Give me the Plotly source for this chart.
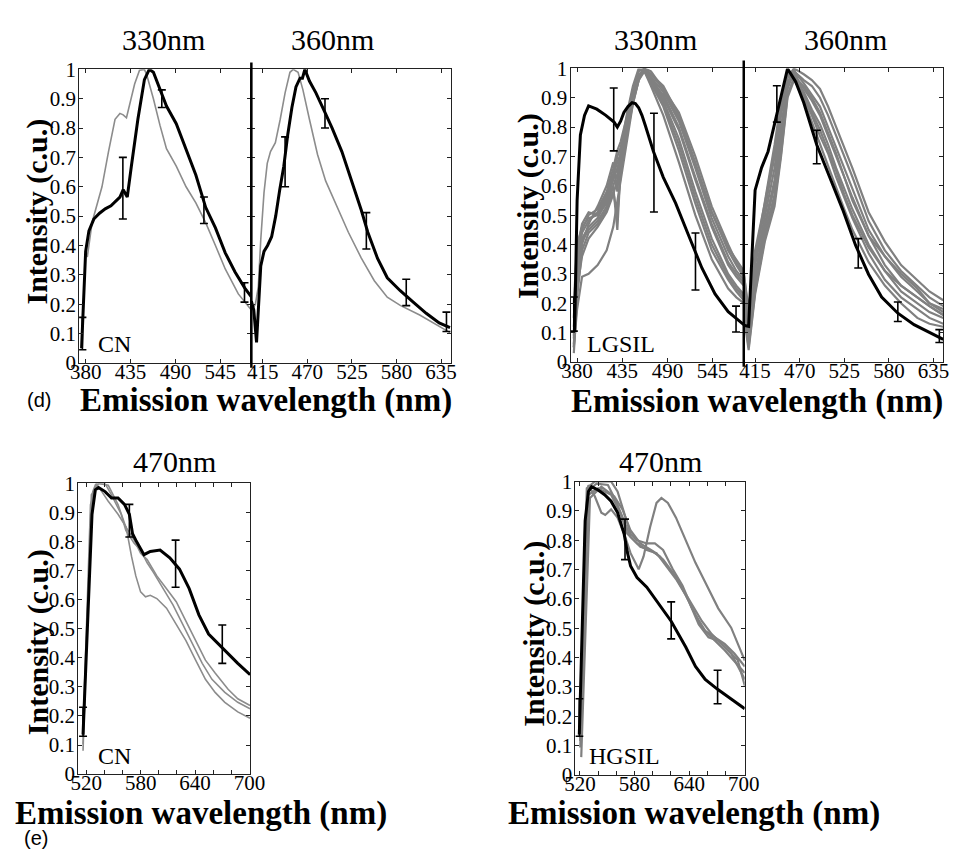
import plotly.graph_objects as go

# ---------------- data ----------------
# (d) CN, excitation 330 nm
wl_330_cn_black = [375, 377, 380, 384, 390, 397, 404, 411, 417, 422, 426, 431, 436, 444, 452, 458,
                   463, 471, 479, 491, 503, 515, 527, 539, 551, 563, 575, 583]
int_330_cn_black = [0.05, 0.20, 0.38, 0.45, 0.49, 0.51, 0.525, 0.535, 0.55, 0.565, 0.59, 0.565, 0.67,
                    0.83, 0.965, 1.0, 0.99, 0.93, 0.875, 0.815, 0.73, 0.64, 0.53, 0.46, 0.375, 0.31,
                    0.255, 0.225]
wl_330_cn_grey = [382, 388, 396, 400, 408, 416, 422, 426, 430, 436, 440, 446, 452, 455, 463, 471,
                  479, 491, 503, 515, 527, 539, 551, 567, 583]
int_330_cn_grey = [0.36, 0.48, 0.56, 0.60, 0.72, 0.83, 0.85, 0.845, 0.835, 0.90, 0.95, 0.997, 1.0,
                   0.98, 0.90, 0.81, 0.73, 0.67, 0.60, 0.545, 0.478, 0.40, 0.32, 0.235, 0.18]
err_330_cn_wl = [376, 425.6, 473.3, 524.9, 574.6]
err_330_cn_mean = [0.10, 0.595, 0.90, 0.52, 0.24]
err_330_cn_sd = [0.055, 0.105, 0.03, 0.045, 0.033]

# (d) CN, excitation 360 nm
wl_360_cn_black = [401, 404, 407.4, 412.6, 416.6, 421, 426, 431, 436, 441, 446, 451, 456, 461, 464,
                   467, 472.6, 480.6, 490.6, 500.6, 512.6, 524.6, 536.6, 544.6, 556.6, 568.6,
                   584.6, 600.6, 616.6, 632.6, 646]
int_360_cn_black = [0.21, 0.18, 0.07, 0.33, 0.38, 0.40, 0.43, 0.50, 0.59, 0.67, 0.78, 0.87, 0.94,
                    0.97, 0.97, 1.0, 0.96, 0.92, 0.86, 0.80, 0.72, 0.62, 0.52, 0.445, 0.356, 0.29,
                    0.246, 0.207, 0.169, 0.136, 0.12]
wl_360_cn_grey = [401, 406, 409.6, 412.6, 416.6, 420.6, 424.6, 430.6, 436.6, 442.6, 448.6, 452.6,
                  458.6, 464.6, 472.6, 482.6, 492.6, 504.6, 520.6, 536.6, 552.6, 568.6, 584.6,
                  608.6, 632.6, 646]
int_360_cn_grey = [0.18, 0.20, 0.26, 0.42, 0.58, 0.68, 0.72, 0.75, 0.83, 0.92, 0.99, 1.0, 0.99,
                   0.93, 0.83, 0.71, 0.62, 0.544, 0.445, 0.357, 0.28, 0.224, 0.196, 0.163, 0.125,
                   0.103]
err_360_cn_wl = [442.6, 491.8, 542.8, 592.0, 641.6]
err_360_cn_mean = [0.685, 0.85, 0.45, 0.24, 0.14]
err_360_cn_sd = [0.085, 0.05, 0.062, 0.045, 0.033]

# (d) LGSIL, excitation 330 nm
wl_330_lg_black = [377, 380, 384, 389, 394, 404, 415, 425, 429, 433, 437, 442, 447, 451, 455, 459,
                   463, 468, 473, 485, 500, 516, 532, 548, 564, 576, 583]
int_330_lg_black = [0.105, 0.55, 0.773, 0.84, 0.872, 0.861, 0.84, 0.817, 0.80, 0.82, 0.85, 0.87,
                    0.883, 0.88, 0.866, 0.84, 0.806, 0.76, 0.717, 0.629, 0.541, 0.43, 0.32, 0.232,
                    0.171, 0.143, 0.127]
wl_330_lg_grey = [376, 380, 386, 394, 405, 416, 424, 429, 433, 441, 448, 455, 462, 470, 485, 504,
                  524, 544, 564, 574, 583]
int_330_lg_grey = [
    [0.05, 0.30, 0.42, 0.46, 0.49, 0.55, 0.62, 0.66, 0.70, 0.80, 0.90, 0.97, 1.00, 0.98, 0.93, 0.85, 0.70, 0.53, 0.40, 0.34, 0.30],
    [0.10, 0.35, 0.45, 0.50, 0.52, 0.58, 0.66, 0.72, 0.75, 0.84, 0.93, 0.99, 1.00, 0.97, 0.92, 0.82, 0.66, 0.49, 0.36, 0.31, 0.28],
    [0.03, 0.22, 0.38, 0.44, 0.47, 0.52, 0.58, 0.50, 0.64, 0.78, 0.88, 0.96, 1.00, 0.96, 0.89, 0.76, 0.58, 0.42, 0.30, 0.26, 0.23],
    [0.15, 0.38, 0.47, 0.51, 0.50, 0.56, 0.63, 0.70, 0.73, 0.82, 0.91, 0.98, 0.99, 0.95, 0.87, 0.72, 0.54, 0.38, 0.28, 0.24, 0.21],
    [0.08, 0.27, 0.40, 0.47, 0.53, 0.60, 0.68, 0.58, 0.72, 0.85, 0.94, 1.00, 0.99, 0.94, 0.84, 0.68, 0.50, 0.35, 0.25, 0.22, 0.20],
    [0.05, 0.18, 0.29, 0.30, 0.33, 0.38, 0.46, 0.55, 0.62, 0.76, 0.88, 0.96, 1.00, 0.97, 0.90, 0.79, 0.62, 0.46, 0.33, 0.29, 0.26],
    [0.12, 0.33, 0.44, 0.48, 0.51, 0.57, 0.64, 0.68, 0.71, 0.81, 0.90, 0.97, 1.00, 0.98, 0.94, 0.84, 0.68, 0.51, 0.38, 0.33, 0.29],
    [0.20, 0.40, 0.46, 0.49, 0.50, 0.54, 0.60, 0.45, 0.66, 0.79, 0.89, 0.96, 0.99, 0.96, 0.91, 0.80, 0.63, 0.47, 0.34, 0.30, 0.27],
    [0.06, 0.25, 0.36, 0.42, 0.46, 0.51, 0.57, 0.62, 0.68, 0.80, 0.90, 0.97, 1.00, 0.99, 0.93, 0.83, 0.67, 0.51, 0.39, 0.35, 0.31],
    [0.09, 0.31, 0.41, 0.45, 0.48, 0.53, 0.60, 0.64, 0.69, 0.83, 0.92, 0.99, 1.00, 0.96, 0.88, 0.74, 0.56, 0.40, 0.29, 0.25, 0.22],
]
err_330_lg_wl = [376, 424.6, 473.6, 524.2, 573.6]
err_330_lg_mean = [0.163, 0.826, 0.679, 0.342, 0.146]
err_330_lg_sd = [0.058, 0.107, 0.168, 0.097, 0.044]

# (d) LGSIL, excitation 360 nm
wl_360_lg_black = [401, 407, 415, 423, 431, 439, 447, 455, 465, 475, 491, 507, 523, 539, 555, 571,
                   591, 611, 631, 647]
int_360_lg_black = [0.125, 0.121, 0.585, 0.662, 0.717, 0.806, 0.905, 0.999, 0.955, 0.883, 0.74,
                    0.629, 0.519, 0.397, 0.298, 0.221, 0.166, 0.127, 0.099, 0.077]
wl_360_lg_grey = [401, 407, 415, 427, 439, 447, 455, 463, 475, 485, 495, 505, 515, 525, 535, 555,
                  575, 595, 615, 630, 647]
int_360_lg_grey = [
    [0.28, 0.12, 0.30, 0.47, 0.62, 0.80, 0.95, 1.00, 0.98, 0.96, 0.93, 0.87, 0.80, 0.73, 0.66, 0.51, 0.41, 0.33, 0.28, 0.24, 0.21],
    [0.30, 0.18, 0.38, 0.54, 0.72, 0.87, 0.98, 0.99, 0.96, 0.94, 0.90, 0.84, 0.77, 0.70, 0.63, 0.48, 0.38, 0.31, 0.26, 0.22, 0.19],
    [0.22, 0.06, 0.26, 0.44, 0.57, 0.74, 0.93, 0.99, 0.95, 0.91, 0.87, 0.80, 0.73, 0.66, 0.59, 0.45, 0.36, 0.29, 0.24, 0.20, 0.18],
    [0.25, 0.10, 0.33, 0.50, 0.66, 0.84, 0.97, 0.98, 0.93, 0.89, 0.84, 0.77, 0.70, 0.63, 0.56, 0.43, 0.33, 0.26, 0.22, 0.19, 0.16],
    [0.18, 0.05, 0.24, 0.42, 0.55, 0.71, 0.91, 0.97, 0.92, 0.86, 0.81, 0.74, 0.66, 0.59, 0.52, 0.40, 0.31, 0.24, 0.20, 0.17, 0.15],
    [0.31, 0.15, 0.36, 0.52, 0.70, 0.86, 0.97, 1.00, 0.90, 0.84, 0.77, 0.71, 0.63, 0.56, 0.49, 0.37, 0.28, 0.22, 0.18, 0.15, 0.13],
    [0.20, 0.08, 0.28, 0.46, 0.60, 0.77, 0.94, 0.98, 0.89, 0.82, 0.74, 0.67, 0.59, 0.52, 0.45, 0.34, 0.26, 0.20, 0.15, 0.13, 0.12],
    [0.26, 0.13, 0.35, 0.55, 0.74, 0.89, 0.99, 0.97, 0.94, 0.90, 0.85, 0.78, 0.71, 0.63, 0.55, 0.43, 0.36, 0.30, 0.25, 0.20, 0.17],
    [0.16, 0.04, 0.23, 0.41, 0.53, 0.70, 0.90, 0.96, 0.91, 0.85, 0.79, 0.72, 0.65, 0.57, 0.50, 0.39, 0.31, 0.26, 0.22, 0.19, 0.16],
]
err_360_lg_wl = [441.8, 491.0, 542.2, 591.0, 642.2]
err_360_lg_mean = [0.879, 0.732, 0.37, 0.171, 0.088]
err_360_lg_sd = [0.062, 0.057, 0.05, 0.033, 0.022]

# (e) CN, excitation 470 nm
wl_470_cn_black = [516.4, 521, 526.3, 530, 533.5, 540.7, 547.8, 555, 562.1, 567.5, 571, 574.6,
                   583.6, 590.6, 601.4, 612.1, 622.8, 633.5, 644.2, 654.9, 665.7, 676.4, 687.1,
                   700.7]
int_470_cn_black = [0.136, 0.482, 0.894, 0.978, 0.986, 0.972, 0.95, 0.95, 0.928, 0.894, 0.827,
                    0.805, 0.755, 0.766, 0.771, 0.744, 0.705, 0.638, 0.548, 0.482, 0.448, 0.415,
                    0.381, 0.342]
wl_470_cn_grey = [
    [516.4, 522.8, 527.1, 530.6, 537.1, 544.2, 555, 563.9, 569.9, 574.6, 579.9, 585.3, 590.6, 597.8,
     608.5, 619.2, 629.9, 640.6, 651.4, 662.1, 672.8, 687.1, 700.6],
    [516.4, 524.6, 531.7, 540.6, 547.8, 558.5, 563.6, 572.8, 579.9, 587.1, 594.2, 605, 615.6, 626.4,
     637.1, 647.9, 658.6, 672.8, 687.1, 700.6],
    [516.4, 525.6, 533.5, 544.2, 555, 563.6, 572.8, 579.9, 587.1, 597.8, 608.5, 619.2, 629.9, 640.6,
     651.4, 662.1, 676.4, 687.1, 700.6],
]
int_470_cn_grey = [
    [0.103, 0.682, 0.972, 1.0, 0.972, 0.939, 0.894, 0.85, 0.749, 0.682, 0.627, 0.61, 0.615, 0.604,
     0.571, 0.515, 0.459, 0.392, 0.326, 0.281, 0.247, 0.214, 0.192],
    [0.147, 0.927, 1.0, 1.0, 0.961, 0.894, 0.838, 0.794, 0.771, 0.727, 0.693, 0.638, 0.582, 0.515,
     0.448, 0.381, 0.326, 0.281, 0.247, 0.225],
    [0.08, 0.961, 1.0, 0.994, 0.927, 0.85, 0.805, 0.76, 0.738, 0.682, 0.638, 0.593, 0.526, 0.459,
     0.392, 0.348, 0.292, 0.259, 0.236],
]
err_470_cn_wl = [516.4, 567.5, 618.5, 670.0]
err_470_cn_mean = [0.18, 0.872, 0.724, 0.447]
err_470_cn_sd = [0.05, 0.056, 0.081, 0.066]

# (e) HGSIL, excitation 470 nm
wl_470_hg_black = [519.3, 525.7, 529.3, 532.8, 540, 547.1, 554.2, 561.3, 568.5, 572, 575.6, 582.7,
                   593.4, 607.7, 620.2, 636.2, 646.9, 657.6, 671.2, 686.1, 701]
int_470_hg_black = [0.138, 0.866, 0.966, 0.982, 0.971, 0.955, 0.933, 0.894, 0.822, 0.76, 0.712,
                    0.673, 0.64, 0.58, 0.524, 0.436, 0.37, 0.326, 0.292, 0.259, 0.226]
wl_470_hg_grey = [
    [520.3, 525.7, 529.3, 536.4, 543.5, 547.8, 554.2, 561.3, 568.5, 575.6, 584.5, 589.9, 597, 604.1,
     609.5, 616.6, 625.5, 636.2, 646.9, 657.6, 671.9, 686.1, 701.1],
    [520.3, 527.5, 536.4, 554.2, 561.3, 568.5, 575.6, 582.7, 593.4, 602.3, 611.3, 622, 632.6, 643.3,
     654, 664.7, 679, 701.1],
    [520.3, 528.5, 538.2, 550.7, 559.6, 568.5, 575.6, 586.3, 597, 607.7, 618.4, 629.1, 639.8, 650.5,
     661.2, 671.9, 686.1, 701.1],
    [520.3, 529.3, 540, 554.2, 564.9, 572, 582.7, 593.4, 604.1, 614.8, 625.5, 636.2, 646.9, 657.6,
     668.3, 679, 689.7, 701.1],
    [521.4, 531, 543.5, 557.8, 566.7, 575.6, 586.3, 600.6, 611.3, 622, 632.6, 643.3, 654, 664.7, 679,
     693.3, 701.1],
]
int_470_hg_grey = [
    [0.127, 0.855, 0.988, 0.949, 0.894, 0.886, 0.905, 0.877, 0.822, 0.756, 0.701, 0.745, 0.844,
     0.927, 0.944, 0.927, 0.877, 0.8, 0.723, 0.657, 0.568, 0.502, 0.39],
    [0.149, 0.977, 1.0, 1.0, 0.966, 0.889, 0.822, 0.8, 0.789, 0.789, 0.767, 0.701, 0.646, 0.568,
     0.502, 0.469, 0.425, 0.348],
    [0.116, 0.966, 0.993, 0.988, 0.933, 0.866, 0.811, 0.778, 0.767, 0.745, 0.701, 0.657, 0.59,
     0.513, 0.469, 0.458, 0.414, 0.326],
    [0.094, 0.955, 0.977, 0.955, 0.889, 0.822, 0.789, 0.767, 0.756, 0.712, 0.668, 0.613, 0.546,
     0.491, 0.469, 0.447, 0.414, 0.37],
    [0.061, 0.944, 0.982, 0.949, 0.905, 0.833, 0.789, 0.762, 0.734, 0.69, 0.635, 0.579, 0.524,
     0.48, 0.436, 0.392, 0.304],
]
err_470_hg_wl = [519.3, 569.5, 620.2, 671.2]
err_470_hg_mean = [0.196, 0.803, 0.527, 0.30]
err_470_hg_sd = [0.064, 0.069, 0.063, 0.057]

# tick definitions
y_ticks = [0, 0.1, 0.2, 0.3, 0.4, 0.5, 0.6, 0.7, 0.8, 0.9, 1]
y_tick_text = ["0", "0.1", "0.2", "0.3", "0.4", "0.5", "0.6", "0.7", "0.8", "0.9", "1"]
x_ticks_330 = [380, 435, 490, 545]
x_ticks_360 = [415, 470, 525, 580, 635]
x_ticks_470 = [520, 540, 560, 580, 600, 620, 640, 660, 680, 700]
x_text_470 = ["520", "", "", "580", "", "", "640", "", "", "700"]

# ---------------- figure ----------------
W, H = 967, 859
SERIF = "Liberation Serif, Times New Roman, serif"
BLACK_LINE = dict(color="black", width=3)
GREY_CN = dict(color="rgb(140,140,140)", width=1.6)
GREY_SIL = dict(color="rgb(128,128,128)", width=2.2)


def px_x(p):
    return p / W


def px_y(p):
    return 1 - p / H


fig = go.Figure()


def add_line(n, x, y, line):
    fig.add_trace(go.Scatter(x=x, y=y, mode="lines", line=line, showlegend=False,
                             hoverinfo="skip", xaxis=f"x{n}", yaxis=f"y{n}"))


def add_err(n, x, y, e):
    fig.add_trace(go.Scatter(x=x, y=y, mode="markers", marker=dict(size=1, color="black", opacity=0),
                             error_y=dict(type="data", array=e, visible=True, color="black",
                                          thickness=1.6, width=4),
                             showlegend=False, hoverinfo="skip", xaxis=f"x{n}", yaxis=f"y{n}"))


# panel 1: CN 330
add_line(1, wl_330_cn_grey, int_330_cn_grey, GREY_CN)
add_line(1, wl_330_cn_black, int_330_cn_black, BLACK_LINE)
add_err(1, err_330_cn_wl, err_330_cn_mean, err_330_cn_sd)
# panel 2: CN 360
add_line(2, wl_360_cn_grey, int_360_cn_grey, GREY_CN)
add_line(2, wl_360_cn_black, int_360_cn_black, BLACK_LINE)
add_err(2, err_360_cn_wl, err_360_cn_mean, err_360_cn_sd)
# panel 3: LGSIL 330
for curve in int_330_lg_grey:
    add_line(3, wl_330_lg_grey, curve, GREY_SIL)
add_line(3, wl_330_lg_black, int_330_lg_black, BLACK_LINE)
add_err(3, err_330_lg_wl, err_330_lg_mean, err_330_lg_sd)
# panel 4: LGSIL 360
for curve in int_360_lg_grey:
    add_line(4, wl_360_lg_grey, curve, GREY_SIL)
add_line(4, wl_360_lg_black, int_360_lg_black, BLACK_LINE)
add_err(4, err_360_lg_wl, err_360_lg_mean, err_360_lg_sd)
# panel 5: CN 470
for wx, wy in zip(wl_470_cn_grey, int_470_cn_grey):
    add_line(5, wx, wy, GREY_CN)
add_line(5, wl_470_cn_black, int_470_cn_black, BLACK_LINE)
add_err(5, err_470_cn_wl, err_470_cn_mean, err_470_cn_sd)
# panel 6: HGSIL 470
for wx, wy in zip(wl_470_hg_grey, int_470_hg_grey):
    add_line(6, wx, wy, GREY_SIL)
add_line(6, wl_470_hg_black, int_470_hg_black, BLACK_LINE)
add_err(6, err_470_hg_wl, err_470_hg_mean, err_470_hg_sd)

tick_font = dict(family=SERIF, size=21, color="black")
common = dict(showgrid=False, zeroline=False, showline=True, linecolor="#222", linewidth=1,
              mirror="ticks", ticks="inside", ticklen=4, tickwidth=1, tickcolor="#222",
              tickfont=tick_font, fixedrange=True)

# pixel boxes: (left, right, top, bottom)
boxes = {
    1: (70, 247, 59, 361),
    2: (247, 452, 59, 361),
    3: (575, 753, 58, 360),
    4: (753, 958, 58, 360),
    5: (69, 246, 485, 784),
    6: (580, 754, 483, 785),
}
x_ranges = {1: [372, 583], 2: [401, 647], 3: [372, 583], 4: [401, 647], 5: [511, 701], 6: [515, 701]}
x_tickvals = {1: x_ticks_330, 2: x_ticks_360, 3: x_ticks_330, 4: x_ticks_360, 5: x_ticks_470, 6: x_ticks_470}
x_ticktext = {1: [str(v) for v in x_ticks_330], 2: [str(v) for v in x_ticks_360],
              3: [str(v) for v in x_ticks_330], 4: [str(v) for v in x_ticks_360],
              5: x_text_470, 6: x_text_470}

layout_axes = {}
for n, (l, r, t, b) in boxes.items():
    key = "" if n == 1 else str(n)
    layout_axes[f"xaxis{key}"] = dict(common, domain=[px_x(l), px_x(r)], range=x_ranges[n],
                                      anchor=f"y{n}", tickvals=x_tickvals[n], ticktext=x_ticktext[n],
                                      ticklabelstandoff=-10)
    show_y = n not in (2, 4)
    layout_axes[f"yaxis{key}"] = dict(common, domain=[px_y(b), px_y(t)], range=[0, 1],
                                      anchor=f"x{n}", tickvals=y_ticks, ticklabelstandoff=-2,
                                      ticktext=y_tick_text if show_y else [""] * len(y_ticks))

fig.update_layout(width=W, height=H, margin=dict(l=0, r=0, t=0, b=0),
                  paper_bgcolor="white", plot_bgcolor="white", **layout_axes)

# divider lines between the two excitation panels
for xpx, y0, y1 in [(247, 52, 366), (753, 50, 365)]:
    fig.add_shape(type="line", xref="paper", yref="paper", x0=px_x(xpx), x1=px_x(xpx),
                  y0=px_y(y0), y1=px_y(y1), line=dict(color="black", width=2.5))

ann = []


def text(xp, yp, s, size, bold=False, angle=0, family=SERIF):
    ann.append(dict(x=px_x(xp), y=px_y(yp), xref="paper", yref="paper", text=s, showarrow=False,
                    xanchor="center", yanchor="middle", textangle=angle,
                    font=dict(family=family, size=size, color="black",
                              weight="bold" if bold else "normal")))


# excitation titles
text(157, 28, "330nm", 30)
text(330, 28, "360nm", 30)
text(662, 28, "330nm", 30)
text(858, 28, "360nm", 30)
text(168, 462, "470nm", 30)
text(667, 462, "470nm", 30)
# axis titles
for xp, yp in [(27, 205), (532, 200), (28, 648), (538, 640)]:
    text(xp, yp, "Intensity (c.u.)", 30, bold=True, angle=-90)
for xp, yp in [(262, 400), (767, 401), (195, 825), (702, 825)]:
    text(xp, yp, "Emission wavelength (nm)", 33, bold=True)
# group labels
text(106, 342, "CN", 24)
text(627, 342, "LGSIL", 24)
text(106, 765, "CN", 24)
text(630, 765, "HGSIL", 24)
# panel letters
text(29, 399, "(d)", 20, family="Liberation Sans, Arial, sans-serif")
text(26, 850, "(e)", 20, family="Liberation Sans, Arial, sans-serif")

fig.update_layout(annotations=ann)
fig.write_html("out.html")
